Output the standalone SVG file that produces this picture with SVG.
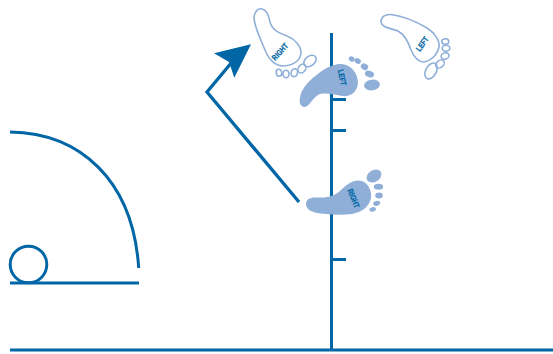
<svg xmlns="http://www.w3.org/2000/svg" width="553" height="354" viewBox="0 0 553 354">
<style>
.ln{fill:none;stroke:#0066a6;stroke-width:3}
.fill{fill:#8fafd9}
.out{fill:none;stroke:#8fafd9;stroke-width:1.6}
.lb{font-family:"Liberation Sans",Arial,sans-serif;font-weight:700;font-size:8px;fill:#0066a6;stroke:#0066a6;stroke-width:.25;text-anchor:middle}
</style>
<g id="connectors">
<path class="ln" d="M10 350H553M331.500 33V351M331.500 99.500H346M331.500 130.500H346M331.500 259.500H346"/>
<path class="ln" d="M299 202L207 92L232 62" stroke-width="3.300" style="stroke-width:3.300"/>
<path d="M251 44.300L214 53.300L229 62L234.300 77.700Z" fill="#0066a6"/>
</g>
<g id="field">
<path class="ln" d="M10 132C80 133 133 180 138.700 268"/>
<path class="ln" d="M10 283H139"/>
<circle class="ln" cx="28.500" cy="264.500" r="18.300"/>
</g>
<g id="foot-left-filled">
<path class="fill" d="M300 98C301 90 306 84 314 77C322 70 333 63 342 64C351 65 358 73 358 83C357 93 350 97 342 96C332 94 323 92 318 95C312 99 309 107 304 107C300 106 299 102 300 98Z"/>
<ellipse class="fill" cx="372" cy="85" rx="8" ry="5.300" transform="rotate(-8 372 85)"/>
<ellipse class="fill" cx="369.500" cy="74" rx="4.700" ry="3.200" transform="rotate(20 369.500 74)"/>
<ellipse class="fill" cx="364.500" cy="66.700" rx="3.800" ry="3.100" transform="rotate(30 364.500 66.700)"/>
<ellipse class="fill" cx="357.700" cy="61" rx="3.300" ry="2.700" transform="rotate(30 357.700 61)"/>
<ellipse class="fill" cx="351.700" cy="59" rx="3" ry="2.500" transform="rotate(30 351.700 59)"/>
<text class="lb" transform="translate(339.300 78) rotate(78) scale(.8 1)">LEFT</text>
</g>
<g id="foot-right-filled">
<path class="fill" d="M306 204C306 199 310 197 318 197.500C328 198 335 196 342 189C349 182 356 179 362 181C369 184 372 192 371 198C369 207 362 212 352 214C340 215.500 325 214.500 315 212.500C309 211 306 208 306 204Z"/>
<ellipse class="fill" cx="374" cy="176" rx="8" ry="5.800" transform="rotate(-32 374 176)"/>
<ellipse class="fill" cx="378.500" cy="186.700" rx="4.700" ry="3"/>
<ellipse class="fill" cx="379" cy="195.500" rx="3.800" ry="2.900"/>
<ellipse class="fill" cx="376.700" cy="203.300" rx="3.600" ry="2.500" transform="rotate(-15 376.700 203.300)"/>
<ellipse class="fill" cx="372.700" cy="209.300" rx="3.300" ry="2.200" transform="rotate(-15 372.700 209.300)"/>
<text class="lb" transform="translate(351 199.500) rotate(68) scale(.8 1)">RIGHT</text>
</g>
<g id="foot-right-outline">
<path class="out" d="M254 17C255 11 258 8 262 9C267 10 269 16 270 22C272 30 279 33 287 36C295 39 301 46 301 53C300 61 293 65 284 66C275 66 269 60 265 50C261 40 254 27 254 17Z"/>
<ellipse class="out" cx="310" cy="61" rx="7" ry="4.800" transform="rotate(-40 310 61)"/>
<ellipse class="out" cx="302" cy="68.500" rx="3.600" ry="4.800" transform="rotate(35 302 68.500)"/>
<ellipse class="out" cx="294.300" cy="72.700" rx="3.200" ry="4" transform="rotate(15 294.300 72.700)"/>
<ellipse class="out" cx="286" cy="74" rx="3" ry="3.800"/>
<ellipse class="out" cx="279" cy="72.700" rx="2.800" ry="3.500" transform="rotate(-15 279 72.700)"/>
<text class="lb" transform="translate(282 53.500) rotate(-48) scale(.8 1)">RIGHT</text>
</g>
<g id="foot-left-outline">
<path class="out" d="M381 22C381 17 385 14 391 14.500C402 16 417 22 427 28C435 33 440 41 439 47C437 56 430 61 424 62C418 62 414 57 411 50C408 42 405 35 398 31C391 28 382 28 381 22Z"/>
<ellipse class="out" cx="431" cy="71" rx="8.500" ry="5.300" transform="rotate(-62 431 71)"/>
<ellipse class="out" cx="440" cy="64" rx="4.700" ry="3.500" transform="rotate(-40 440 64)"/>
<ellipse class="out" cx="445" cy="56" rx="4" ry="3.200" transform="rotate(-20 445 56)"/>
<ellipse class="out" cx="446" cy="48.300" rx="3.800" ry="3"/>
<ellipse class="out" cx="445.300" cy="41.500" rx="3.500" ry="2.800"/>
<text class="lb" transform="translate(424.500 45.500) rotate(-55) scale(.8 1)">LEFT</text>
</g>
</svg>
